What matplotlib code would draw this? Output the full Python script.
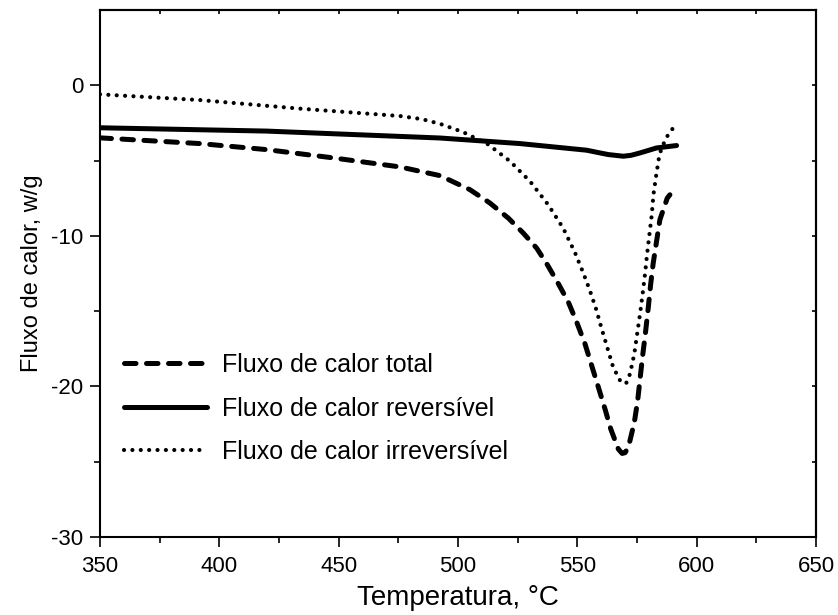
import matplotlib
matplotlib.use("Agg")
import matplotlib.pyplot as plt

plt.rcParams["font.family"] = ["Liberation Sans", "DejaVu Sans"]
plt.rcParams["axes.unicode_minus"] = False

# Fluxo de calor total (dashed)
total_T = [350, 391.9, 419.8, 447.7, 475.7, 492.5, 505, 513.4, 521.1, 527.4, 533, 537.5,
           542, 546.2, 549.7, 553.2, 556, 558.8, 561.6, 564, 567.2, 568.8, 570, 571.4,
           573.9, 575.3, 576.3, 577.4, 578.6, 579.7, 580.7, 581.8, 583.2, 584.6, 587.7, 588.8]
total_Q = [-3.49, -3.87, -4.27, -4.82, -5.42, -6.0, -6.93, -7.82, -8.82, -9.82, -10.82, -11.93,
           -13.16, -14.38, -15.71, -17.16, -18.6, -20.04, -21.49, -22.82, -24.16, -24.45, -24.4, -24.04,
           -22.38, -20.93, -19.49, -17.93, -16.38, -14.82, -13.27, -11.82, -10.38, -8.93, -7.49, -7.27]

# Fluxo de calor reversivel (solid)
rev_T = [350, 419.8, 492.5, 526, 553.9, 559.5, 563, 569.3, 572.5, 576.3, 583.2, 591.6]
rev_Q = [-2.82, -3.04, -3.5, -3.87, -4.31, -4.49, -4.6, -4.71, -4.65, -4.49, -4.16, -4.0]

# Fluxo de calor irreversivel (dotted)
irr_T = [350, 391.9, 433.8, 475.7, 485, 492.5, 502.2, 512.7, 521.8, 530.2, 537.8, 544.1, 549,
         552.3, 555.1, 557.8, 560.2, 562.5, 565, 567.9, 570.4, 572.1, 573.9, 575.1, 576.3,
         577.4, 578.4, 579.2, 580.2, 581.2, 581.9, 583, 584.2, 585.3, 587.7, 589.9]
irr_Q = [-0.6, -0.98, -1.55, -2.04, -2.25, -2.56, -3.11, -3.93, -5.04, -6.38, -7.93, -9.49, -11.1,
         -12.38, -13.55, -14.82, -16.16, -17.38, -18.71, -19.6, -19.82, -19.16, -17.82, -16.49, -15.16,
         -13.82, -12.49, -11.27, -9.93, -8.6, -7.27, -6.04, -4.82, -4.16, -3.38, -2.89]

labels = ["Fluxo de calor total", "Fluxo de calor reversível", "Fluxo de calor irreversível"]
x_ticks = [350, 400, 450, 500, 550, 600, 650]
y_ticks = [0, -10, -20, -30]

fig = plt.figure(figsize=(8.38, 6.15), dpi=100)
ax = fig.add_axes([0.1193, 0.1268, 0.8544, 0.8569])

ax.plot(total_T, total_Q, color="black", lw=3.6, linestyle=(0, (2.3, 2.1)),
        dash_capstyle="round", label=labels[0])
ax.plot(rev_T, rev_Q, color="black", lw=3.6, solid_capstyle="round", label=labels[1])
ax.plot(irr_T, irr_Q, color="black", lw=3.0, linestyle=(0, (0.01, 2.0)),
        dash_capstyle="round", label=labels[2])

ax.set_xlim(350, 650)
ax.set_ylim(-30, 5)
ax.set_xticks(x_ticks)
ax.set_xticks(range(375, 650, 50), minor=True)
ax.set_yticks(y_ticks)
ax.set_yticks([-5, -15, -25], minor=True)
ax.tick_params(which="major", direction="out", length=7, width=1.2, labelsize=16)
ax.tick_params(which="minor", direction="out", length=4, width=1.2)
ax.tick_params(axis="x", which="major", pad=6.5)
ax.tick_params(axis="y", which="major", pad=5)
for s in ax.spines.values():
    s.set_linewidth(1.5)

# inward ticks on top and right
top = ax.secondary_xaxis("top")
top.set_xticks(range(350, 651, 25))
top.tick_params(direction="in", length=3, width=1.2, labeltop=False)
top.spines["top"].set_linewidth(1.5)
right = ax.secondary_yaxis("right")
right.set_yticks(range(-30, 6, 5))
right.tick_params(direction="in", length=3, width=1.2, labelright=False)
right.spines["right"].set_linewidth(1.5)

ax.set_xlabel("Temperatura, °C", fontsize=20, labelpad=6)
ax.set_ylabel("Fluxo de calor, w/g", fontsize=17, labelpad=6)

ax.legend(loc="upper left", bbox_to_anchor=(0.02, 0.368), frameon=False,
          fontsize=18, handlelength=3.3, handletextpad=0.6, labelspacing=0.78,
          borderaxespad=0)

fig.savefig("out.png", dpi=100)
